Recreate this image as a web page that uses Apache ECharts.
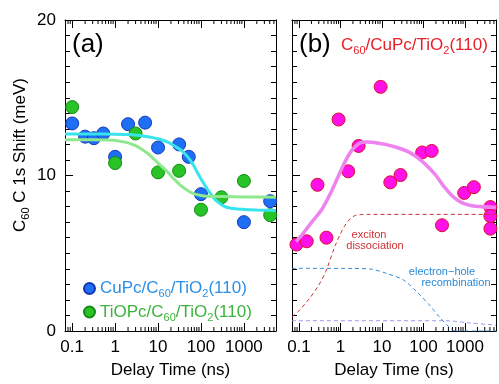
<!DOCTYPE html>
<html>
<head>
<meta charset="utf-8">
<script src="https://cdn.jsdelivr.net/npm/echarts@6/dist/echarts.min.js"></script>
<style>
html, body { margin: 0; padding: 0; background: #fff; }
#chart { width: 499px; height: 384px; }
</style>
</head>
<body>
<div id="chart"></div>
<script>
// ---- panel (a) : Pc/C60/TiO2 ----
const cupcTime = [0.1, 0.2, 0.32, 0.53, 1, 2, 5, 10, 31, 52, 100, 1000, 4100];
const cupcShift = [13.35, 12.5, 12.4, 12.7, 11.2, 13.3, 13.4, 11.8, 12.0, 11.2, 8.8, 7.0, 8.35];
const tiopcTime = [0.1, 1, 3, 10, 31, 100, 300, 1000, 4100];
const tiopcShift = [14.4, 10.8, 12.7, 10.2, 10.3, 7.8, 8.6, 9.65, 7.45];

// fitted curves
const cupcFitTime = [0.068, 0.3, 1, 2.2, 4, 8, 12, 18, 24, 35, 49, 66, 84, 110, 143, 190, 245, 350, 500, 1000, 2000, 5600];
const cupcFitShift = [12.67, 12.67, 12.66, 12.63, 12.55, 12.42, 12.3, 12.12, 11.9, 11.62, 11.2, 10.7, 10.15, 9.6, 9.1, 8.62, 8.3, 8.02, 7.9, 7.82, 7.78, 7.75];
const tiopcFitTime = [0.068, 0.3, 0.7, 1.2, 2, 3, 4, 6, 8, 12, 17, 24, 34, 50, 70, 100, 140, 300, 1000, 5600];
const tiopcFitShift = [12.3, 12.3, 12.28, 12.22, 12.1, 11.92, 11.72, 11.38, 11.05, 10.6, 10.2, 9.75, 9.35, 9.02, 8.82, 8.72, 8.67, 8.65, 8.62, 8.6];

// ---- panel (b) : C60/CuPc/TiO2 ----
const c60Time = [0.087, 0.154, 0.28, 0.46, 0.9, 1.54, 2.74, 9.3, 15.9, 28, 93, 158, 280, 960, 1640, 4100, 4100, 4100];
const c60Shift = [5.56, 5.77, 9.4, 6.0, 13.6, 10.27, 11.9, 15.7, 9.56, 10.03, 11.48, 11.58, 6.8, 8.88, 9.25, 7.97, 7.39, 6.58];
const c60FitTime = [0.085, 0.12, 0.178, 0.26, 0.365, 0.6, 0.9, 1.3, 1.84, 2.9, 4.5, 6.5, 12, 23, 45, 80, 130, 200, 310, 490, 700, 1000, 1800, 5600];
const c60FitShift = [5.75, 6.2, 6.8, 7.35, 7.86, 8.95, 9.99, 10.9, 11.58, 12.08, 12.15, 12.12, 12.0, 11.8, 11.5, 11.05, 10.55, 10.0, 9.3, 8.7, 8.38, 8.18, 8.02, 7.95];
const dissocTime = [0.068, 0.1, 0.18, 0.3, 0.44, 0.75, 1.0, 1.29, 1.7, 2.27, 3.2, 4.4, 5600];
const dissocShift = [0.9, 1.3, 2.1, 2.95, 3.81, 5.5, 6.25, 6.8, 7.2, 7.43, 7.49, 7.5, 7.5];
const recombTime = [0.068, 2, 5.4, 13, 33, 68, 138, 235, 400, 580, 5600];
const recombShift = [4.03, 4.02, 3.98, 3.7, 3.28, 2.54, 1.68, 0.94, 0.3, 0, 0];
const baseTime = [0.068, 340, 1400, 5600];
const baseShift = [0.66, 0.66, 0.51, 0.38];

const timeTicks = [0.1, 1, 10, 100, 1000];
const timeLabels = ['0.1', '1', '10', '100', '1000'];

const FONT = '"Liberation Sans", Arial, sans-serif';
const X_MIN = 0.068, X_MAX = 5600;

const zip = (xs, ys) => xs.map((x, i) => [x, ys[i]]);

// minor ticks of a log axis (2..9 per decade)
const minorTicks = [];
for (let e = -2; e <= 3; e++) {
  for (let k = 2; k <= 9; k++) {
    const v = k * Math.pow(10, e);
    if (v > X_MIN && v < X_MAX) minorTicks.push([Number(v.toPrecision(6)), 0]);
  }
}

function decadeLabel(v) {
  for (let i = 0; i < timeTicks.length; i++) {
    if (Math.abs(v - timeTicks[i]) / timeTicks[i] < 1e-6) return timeLabels[i];
  }
  return '';
}

function timeAxis(grid, pos) {
  const bottom = pos === 'bottom';
  return {
    type: 'log', logBase: 10, gridIndex: grid, position: pos,
    min: X_MIN, max: X_MAX,
    name: bottom ? 'Delay Time (ns)' : '', nameLocation: 'middle', nameGap: 31,
    nameTextStyle: { fontFamily: FONT, fontSize: 17, color: '#000' },
    axisLine: { show: true, onZero: false, lineStyle: { color: '#000', width: 1 } },
    axisTick: { show: true, inside: true, length: 8, lineStyle: { color: '#000' } },
    axisLabel: { show: bottom, margin: 8, fontFamily: FONT, fontSize: 17, color: '#000', formatter: decadeLabel },
    splitLine: { show: false }
  };
}

function shiftAxis(grid, pos, showLabel) {
  return {
    type: 'value', gridIndex: grid, position: pos, min: 0, max: 20, interval: 10,
    axisLine: { show: true, onZero: false, lineStyle: { color: '#000', width: 1 } },
    axisTick: { show: true, inside: true, length: 8, lineStyle: { color: '#000' } },
    minorTick: { show: true, splitNumber: 10, length: 5, lineStyle: { color: '#000' } },
    axisLabel: { show: showLabel, margin: 9, fontFamily: FONT, fontSize: 17, color: '#000' },
    splitLine: { show: false }, minorSplitLine: { show: false }
  };
}

function minorTickSeries(xi, yi) {
  return {
    type: 'custom', xAxisIndex: xi, yAxisIndex: yi, silent: true,
    data: minorTicks,
    renderItem: (params, api) => {
      const b = api.coord([api.value(0), 0]);
      const t = api.coord([api.value(0), 20]);
      return {
        type: 'group', children: [
          { type: 'line', shape: { x1: b[0], y1: b[1], x2: b[0], y2: b[1] - 4 }, style: { stroke: '#000', lineWidth: 1 } },
          { type: 'line', shape: { x1: t[0], y1: t[1], x2: t[0], y2: t[1] + 4 }, style: { stroke: '#000', lineWidth: 1 } }
        ]
      };
    }
  };
}

function curve(xi, yi, data, color, width, dashed) {
  return {
    type: 'line', xAxisIndex: xi, yAxisIndex: yi, data: data,
    smooth: 0.3, showSymbol: false, silent: true,
    lineStyle: { color: color, width: width, type: dashed ? [4, 3] : 'solid' }
  };
}

function dots(name, xi, yi, data, fill, border) {
  return {
    name: name, type: 'scatter', xAxisIndex: xi, yAxisIndex: yi, data: data,
    symbol: 'circle', symbolSize: 13,
    itemStyle: { color: fill, borderColor: border, borderWidth: 1, opacity: 1 }
  };
}

// rich styles for option texts (legend) use "color"
function subRich(color, size) {
  return {
    m: { fontFamily: FONT, fontSize: size, color: color },
    s: { fontFamily: FONT, fontSize: 11, color: color, padding: [11, 0, 0, 0] }
  };
}
// graphic texts are zrender styles, they use "fill"
function subRichG(color, size) {
  return {
    m: { fontFamily: FONT, fontSize: size, fill: color },
    s: { fontFamily: FONT, fontSize: 11, fill: color, padding: [11, 0, 0, 0] }
  };
}

const CUPC = 'CuPc/C60/TiO2(110)';
const TIOPC = 'TiOPc/C60/TiO2(110)';
const blueRich = subRich('#2b8fe6', 17);
const greenRich = subRich('#3cb43c', 17);

const option = {
  animation: false,
  grid: [
    { left: 65, top: 20, width: 211, height: 313 },
    { left: 292, top: 20, width: 211, height: 313 }
  ],
  xAxis: [timeAxis(0, 'bottom'), timeAxis(0, 'top'), timeAxis(1, 'bottom'), timeAxis(1, 'top')],
  yAxis: [shiftAxis(0, 'left', true), shiftAxis(0, 'right', false), shiftAxis(1, 'left', false), shiftAxis(1, 'right', false)],
  legend: {
    data: [CUPC, TIOPC], orient: 'vertical', left: 78, top: 275,
    itemWidth: 11, itemHeight: 11, itemGap: 4, icon: 'circle',
    textStyle: {
      rich: { bm: blueRich.m, bs: blueRich.s, gm: greenRich.m, gs: greenRich.s }
    },
    formatter: name => name === CUPC
      ? '{bm|CuPc/C}{bs|60}{bm|/TiO}{bs|2}{bm|(110)}'
      : '{gm|TiOPc/C}{gs|60}{gm|/TiO}{gs|2}{gm|(110)}'
  },
  series: [
    minorTickSeries(0, 0),
    minorTickSeries(2, 2),
    curve(0, 0, zip(cupcFitTime, cupcFitShift), '#38e4ec', 3),
    curve(0, 0, zip(tiopcFitTime, tiopcFitShift), '#8ee88e', 3),
    dots(CUPC, 0, 0, zip(cupcTime, cupcShift), '#1f6ff5', '#1438b8'),
    dots(TIOPC, 0, 0, zip(tiopcTime, tiopcShift), '#27c327', '#148a14'),
    curve(2, 2, zip(baseTime, baseShift), '#9f96ee', 1, true),
    curve(2, 2, zip(recombTime, recombShift), '#3a8ad0', 1, true),
    curve(2, 2, zip(dissocTime, dissocShift), '#c83232', 1, true),
    curve(2, 2, zip(c60FitTime, c60FitShift), '#ee82ee', 3.5),
    dots('C60/CuPc/TiO2(110)', 2, 2, zip(c60Time, c60Shift), '#ff10e8', '#d8102c')
  ],
  graphic: [
    { type: 'text', x: 20, y: 155, rotation: Math.PI / 2,
      style: { text: '{m|C}{s|60}{m| C 1s Shift (meV)}', rich: subRichG('#000', 17), align: 'center', verticalAlign: 'middle' } },
    { type: 'text', x: 72, y: 45, style: { text: '(a)', font: '26px ' + FONT, fill: '#000', verticalAlign: 'middle' } },
    { type: 'text', x: 299, y: 45, style: { text: '(b)', font: '26px ' + FONT, fill: '#000', verticalAlign: 'middle' } },
    { type: 'text', x: 341, y: 45,
      style: { text: '{m|C}{s|60}{m|/CuPc/TiO}{s|2}{m|(110)}', rich: subRichG('#e8202a', 17), verticalAlign: 'middle' } },
    { type: 'text', x: 369, y: 235, style: { text: 'exciton', font: '11px ' + FONT, fill: '#cc3333', align: 'center', verticalAlign: 'middle' } },
    { type: 'text', x: 375, y: 246, style: { text: 'dissociation', font: '11px ' + FONT, fill: '#cc3333', align: 'center', verticalAlign: 'middle' } },
    { type: 'text', x: 442, y: 272, style: { text: 'electron\u2212hole', font: '11px ' + FONT, fill: '#2a8ad6', align: 'center', verticalAlign: 'middle' } },
    { type: 'text', x: 456, y: 283, style: { text: 'recombination', font: '11px ' + FONT, fill: '#2a8ad6', align: 'center', verticalAlign: 'middle' } }
  ]
};

const chart = echarts.init(document.getElementById('chart'));
chart.setOption(option);
</script>
</body>
</html>
